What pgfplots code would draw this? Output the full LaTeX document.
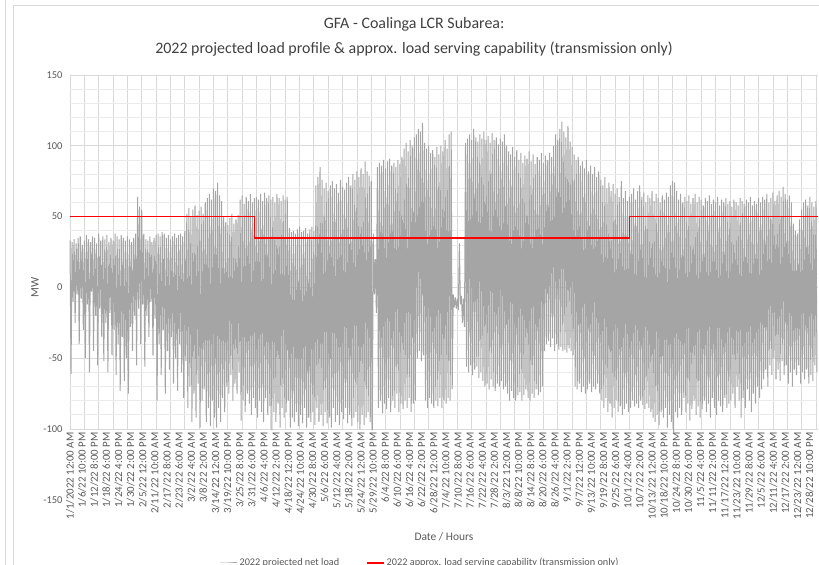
\documentclass[border=0pt]{standalone}
\usepackage{pgfplots}
\pgfplotsset{compat=1.18}
\usepackage{fontspec}
\setmainfont{Carlito}
\definecolor{txt}{HTML}{595959}
\definecolor{ttl}{HTML}{404040}
\definecolor{gridc}{HTML}{D9D9D9}
\definecolor{gridm}{HTML}{EBEBEB}
\definecolor{loadc}{HTML}{A5A5A5}
\begin{document}
\begin{tikzpicture}
\path[use as bounding box] (-70bp,-136bp) rectangle (749bp,429bp);
\draw[gridc, line width=0.75bp] (-65bp,-136bp) -- (-65bp,429bp);
\draw[gridc, line width=0.75bp] (-57bp,-136bp) -- (-57bp,424bp) -- (749bp,424bp);
\begin{axis}[
  at={(0,0)}, anchor=south west,
  scale only axis, width=748bp, height=354bp,
  xmin=0, xmax=365, ymin=-100, ymax=150,
  clip=false,
  axis line style={draw=none},
  major tick length=0pt, minor tick length=0pt,
  xtick={0,5.9166667,...,361},
  xticklabels={1/1/2022 12:00 AM, 1/6/22 10:00 PM, 1/12/22 8:00 PM, 1/18/22 6:00 PM, 1/24/22 4:00 PM, 1/30/22 2:00 PM, 2/5/22 12:00 PM, 2/11/22 10:00 AM, 2/17/22 8:00 AM, 2/23/22 6:00 AM, 3/2/22 4:00 AM, 3/8/22 2:00 AM, 3/14/22 12:00 AM, 3/19/22 10:00 PM, 3/25/22 8:00 PM, 3/31/22 6:00 PM, 4/6/22 4:00 PM, 4/12/22 2:00 PM, 4/18/22 12:00 PM, 4/24/22 10:00 AM, 4/30/22 8:00 AM, 5/6/22 6:00 AM, 5/12/22 4:00 AM, 5/18/22 2:00 AM, 5/24/22 12:00 AM, 5/29/22 10:00 PM, 6/4/22 8:00 PM, 6/10/22 6:00 PM, 6/16/22 4:00 PM, 6/22/22 2:00 PM, 6/28/22 12:00 PM, 7/4/22 10:00 AM, 7/10/22 8:00 AM, 7/16/22 6:00 AM, 7/22/22 4:00 AM, 7/28/22 2:00 AM, 8/3/22 12:00 AM, 8/8/22 10:00 PM, 8/14/22 8:00 PM, 8/20/22 6:00 PM, 8/26/22 4:00 PM, 9/1/22 2:00 PM, 9/7/22 12:00 PM, 9/13/22 10:00 AM, 9/19/22 8:00 AM, 9/25/22 6:00 AM, 10/1/22 4:00 AM, 10/7/22 2:00 AM, 10/13/22 12:00 AM, 10/18/22 10:00 PM, 10/24/22 8:00 PM, 10/30/22 6:00 PM, 11/5/22 4:00 PM, 11/11/22 2:00 PM, 11/17/22 12:00 PM, 11/23/22 10:00 AM, 11/29/22 8:00 AM, 12/5/22 6:00 AM, 12/11/22 4:00 AM, 12/17/22 2:00 AM, 12/23/22 12:00 AM, 12/28/22 10:00 PM},
  xticklabel style={rotate=90, anchor=east, font=\fontsize{10.9}{12}\selectfont, text=txt},
  minor xtick={0,7,...,364},
  xmajorgrids=false, xminorgrids=true,
  ytick={-100,-50,...,150},
  minor ytick={-100,-90,...,150},
  ymajorgrids=true, yminorgrids=true,
  major y grid style={gridc, line width=0.75bp},
  minor y grid style={gridm, line width=0.75bp},
  minor x grid style={gridc, line width=0.75bp},
  yticklabel style={font=\fontsize{10.5}{12}\selectfont, text=txt, xshift=-4bp},
  /pgf/number format/assume math mode=true,
  title={GFA - Coalinga LCR Subarea:\\2022 projected load profile \& approx. load serving capability (transmission only)},
  title style={at={(axis description cs:0.46,1.091)}, anchor=center, align=center, font=\fontsize{16}{25}\selectfont, text=ttl},
  xlabel={Date / Hours},
  xlabel style={at={(axis description cs:0.5,-0.305)}, anchor=center, font=\fontsize{11.5}{13}\selectfont, text=txt},
  ylabel={MW},
  ylabel style={at={(axis description cs:-0.0468,0.4)}, anchor=center, font=\fontsize{11.5}{13}\selectfont, text=txt},
  legend columns=2,
  legend style={at={(axis description cs:0.468,-0.3785)}, anchor=center, draw=none, fill=none, font=\fontsize{10.3}{12}\selectfont, text=txt, /tikz/every even column/.append style={column sep=25bp}},
]
\addplot[loadc, line width=1.0bp, line join=bevel] coordinates {
(0,33)(0.5,-61)(1,32)(1.5,-10)(2,34)(2.5,-25)(3,31)(3.5,-5)(4,35)(4.5,-40)
(5,36)(5.5,-8)(6,30)(6.5,-30)(7,33)(7.5,-50)(8,37)(8.5,-12)(9,34)(9.5,-60)
(10,32)(10.5,-3)(11,36)(11.5,-45)(12,35)(12.5,-20)(13,31)(13.5,-55)(14,38)(14.5,-15)
(15,33)(15.5,-35)(16,36)(16.5,-52)(17,34)(17.5,-25)(18,37)(18.5,-60)(19,32)(19.5,-18)
(20,35)(20.5,-48)(21,33)(21.5,-30)(22,38)(22.5,-62)(23,36)(23.5,-40)(24,34)(24.5,-73)
(25,37)(25.5,-35)(26,35)(26.5,-66)(27,33)(27.5,-50)(28,36)(28.5,-75)(29,34)(29.5,-28)
(30,32)(30.5,-45)(31,35)(31.5,-20)(32,38)(32.5,-55)(33,64)(33.5,-15)(34,57)(34.5,-40)
(35,55)(35.5,-12)(36,38)(36.5,-56)(37,34)(37.5,-20)(38,33)(38.5,-35)(39,36)(39.5,-10)
(40,32)(40.5,-48)(41,35)(41.5,-22)(42,37)(42.5,-80)(43,38)(43.5,-40)(44,36)(44.5,-62)
(45,39)(45.5,-30)(46,38)(46.5,-75)(47,35)(47.5,-45)(48,37)(48.5,-58)(49,34)(49.5,-35)
(50,36)(50.5,-68)(51,38)(51.5,-50)(52,35)(52.5,-73)(53,37)(53.5,-40)(54,38)(54.5,-60)
(55,36)(55.5,-78)(56,40)(56.5,-52)(57,52)(57.5,-85)(58,56)(58.5,-70)(59,50)(59.5,-95)
(60,55)(60.5,-75)(61,58)(61.5,-92)(62,51)(62.5,-68)(63,54)(63.5,-99)(64,57)(64.5,-80)
(65,52)(65.5,-72)(66,60)(66.5,-95)(67,63)(67.5,-85)(68,66)(68.5,-98)(69,62)(69.5,-80)
(70,70)(70.5,-92)(71,68)(71.5,-99)(72,74)(72.5,-85)(73,65)(73.5,-95)(74,61)(74.5,-78)
(75,50)(75.5,-88)(76,46)(76.5,-70)(77,44)(77.5,-75)(78,49)(78.5,-62)(79,52)(79.5,-80)
(80,45)(80.5,-68)(81,48)(81.5,-75)(82,51)(82.5,-60)(83,62)(83.5,-94)(84,65)(84.5,-80)
(85,59)(85.5,-88)(86,64)(86.5,-75)(87,61)(87.5,-82)(88,66)(88.5,-90)(89,60)(89.5,-78)
(90,63)(90.5,-85)(91,64)(91.5,-92)(92,62)(92.5,-80)(93,66)(93.5,-88)(94,61)(94.5,-95)
(95,67)(95.5,-78)(96,63)(96.5,-90)(97,65)(97.5,-84)(98,62)(98.5,-101)(99,64)(99.5,-88)
(100,60)(100.5,-95)(101,66)(101.5,-82)(102,63)(102.5,-99)(103,61)(103.5,-85)(104,65)(104.5,-92)
(105,62)(105.5,-88)(106,64)(106.5,-80)(107,42)(107.5,-99)(108,39)(108.5,-92)(109,40)(109.5,-95)
(110,38)(110.5,-88)(111,41)(111.5,-98)(112,43)(112.5,-90)(113,39)(113.5,-96)(114,40)(114.5,-85)
(115,42)(115.5,-99)(116,38)(116.5,-92)(117,41)(117.5,-95)(118,43)(118.5,-88)(119,40)(119.5,-97)
(120,72)(120.5,-85)(121,78)(121.5,-95)(122,85)(122.5,-90)(123,76)(123.5,-98)(124,70)(124.5,-88)
(125,74)(125.5,-96)(126,68)(126.5,-92)(127,72)(127.5,-99)(128,75)(128.5,-85)(129,70)(129.5,-95)
(130,73)(130.5,-90)(131,67)(131.5,-97)(132,76)(132.5,-88)(133,71)(133.5,-93)(134,69)(134.5,-85)
(135,74)(135.5,-96)(136,78)(136.5,-90)(137,72)(137.5,-98)(138,80)(138.5,-92)(139,76)(139.5,-88)
(140,82)(140.5,-95)(141,78)(141.5,-100)(142,84)(142.5,-90)(143,80)(143.5,-97)(144,89)(144.5,-92)
(145,82)(145.5,-88)(146,79)(146.5,-95)(147,75)(147.5,-101)(148,38)(148.5,-5)(149,20)(149.5,-18)
(150,85)(150.5,-85)(151,88)(151.5,-80)(152,86)(152.5,-89)(153,90)(153.5,-82)(154,84)(154.5,-86)
(155,89)(155.5,-78)(156,91)(156.5,-88)(157,86)(157.5,-80)(158,88)(158.5,-85)(159,85)(159.5,-75)
(160,90)(160.5,-88)(161,87)(161.5,-82)(162,92)(162.5,-86)(163,98)(163.5,-80)(164,102)(164.5,-85)
(165,96)(165.5,-78)(166,104)(166.5,-88)(167,100)(167.5,-82)(168,106)(168.5,-80)(169,108)(169.5,-50)
(170,112)(170.5,-45)(171,110)(171.5,-52)(172,116)(172.5,-48)(173,102)(173.5,-80)(174,98)(174.5,-85)
(175,100)(175.5,-78)(176,95)(176.5,-82)(177,97)(177.5,-85)(178,92)(178.5,-80)(179,99)(179.5,-84)
(180,94)(180.5,-78)(181,100)(181.5,-85)(182,96)(182.5,-80)(183,104)(183.5,-82)(184,98)(184.5,-78)
(185,108)(185.5,-80)(186,110)(186.5,-72)(187,-5)(187.5,-14)(188,-7)(188.5,-15)(189,-8)(189.5,-16)
(190,31)(190.5,-12)(191,-6)(191.5,-25)(192,-8)(192.5,-28)(193,102)(193.5,-56)(194,105)(194.5,-60)
(195,108)(195.5,-55)(196,104)(196.5,-62)(197,112)(197.5,-58)(198,106)(198.5,-56)(199,103)(199.5,-64)
(200,108)(200.5,-60)(201,105)(201.5,-66)(202,110)(202.5,-70)(203,104)(203.5,-68)(204,107)(204.5,-72)
(205,102)(205.5,-65)(206,109)(206.5,-70)(207,104)(207.5,-73)(208,106)(208.5,-68)(209,101)(209.5,-70)
(210,105)(210.5,-66)(211,103)(211.5,-72)(212,108)(212.5,-70)(213,100)(213.5,-75)(214,96)(214.5,-80)
(215,94)(215.5,-73)(216,99)(216.5,-78)(217,92)(217.5,-80)(218,97)(218.5,-76)(219,90)(219.5,-74)
(220,95)(220.5,-80)(221,88)(221.5,-76)(222,93)(222.5,-72)(223,91)(223.5,-78)(224,96)(224.5,-80)
(225,89)(225.5,-75)(226,94)(226.5,-78)(227,87)(227.5,-72)(228,92)(228.5,-76)(229,90)(229.5,-74)
(230,95)(230.5,-70)(231,88)(231.5,-45)(232,93)(232.5,-40)(233,90)(233.5,-38)(234,95)(234.5,-42)
(235,92)(235.5,-36)(236,100)(236.5,-45)(237,108)(237.5,-40)(238,104)(238.5,-44)(239,112)(239.5,-42)
(240,117)(240.5,-45)(241,110)(241.5,-44)(242,106)(242.5,-46)(243,114)(243.5,-43)(244,103)(244.5,-45)
(245,99)(245.5,-48)(246,94)(246.5,-70)(247,90)(247.5,-72)(248,92)(248.5,-68)(249,86)(249.5,-74)
(250,89)(250.5,-70)(251,84)(251.5,-75)(252,90)(252.5,-72)(253,82)(253.5,-68)(254,86)(254.5,-74)
(255,80)(255.5,-70)(256,85)(256.5,-72)(257,78)(257.5,-68)(258,82)(258.5,-75)(259,76)(259.5,-80)
(260,72)(260.5,-85)(261,78)(261.5,-78)(262,70)(262.5,-88)(263,74)(263.5,-82)(264,68)(264.5,-92)
(265,73)(265.5,-85)(266,66)(266.5,-80)(267,70)(267.5,-88)(268,64)(268.5,-84)(269,75)(269.5,-90)
(270,63)(270.5,-86)(271,68)(271.5,-82)(272,61)(272.5,-88)(273,64)(273.5,-85)(274,66)(274.5,-80)
(275,70)(275.5,-84)(276,62)(276.5,-82)(277,68)(277.5,-85)(278,72)(278.5,-80)(279,64)(279.5,-83)
(280,67)(280.5,-86)(281,60)(281.5,-82)(282,65)(282.5,-85)(283,63)(283.5,-88)(284,68)(284.5,-92)
(285,61)(285.5,-95)(286,66)(286.5,-90)(287,63)(287.5,-97)(288,60)(288.5,-88)(289,65)(289.5,-92)
(290,62)(290.5,-85)(291,67)(291.5,-99)(292,64)(292.5,-90)(293,72)(293.5,-95)(294,75)(294.5,-103)
(295,74)(295.5,-88)(296,68)(296.5,-92)(297,62)(297.5,-85)(298,66)(298.5,-90)(299,60)(299.5,-78)
(300,64)(300.5,-88)(301,61)(301.5,-82)(302,65)(302.5,-94)(303,59)(303.5,-86)(304,63)(304.5,-80)
(305,66)(305.5,-90)(306,60)(306.5,-84)(307,64)(307.5,-92)(308,62)(308.5,-86)(309,58)(309.5,-80)
(310,63)(310.5,-88)(311,61)(311.5,-82)(312,65)(312.5,-92)(313,59)(313.5,-78)(314,62)(314.5,-85)
(315,60)(315.5,-90)(316,64)(316.5,-80)(317,58)(317.5,-84)(318,62)(318.5,-88)(319,60)(319.5,-78)
(320,63)(320.5,-85)(321,59)(321.5,-82)(322,61)(322.5,-80)(323,57)(323.5,-75)(324,62)(324.5,-85)
(325,60)(325.5,-70)(326,58)(326.5,-80)(327,63)(327.5,-92)(328,61)(328.5,-78)(329,59)(329.5,-85)
(330,62)(330.5,-72)(331,60)(331.5,-80)(332,64)(332.5,-88)(333,58)(333.5,-75)(334,61)(334.5,-82)
(335,59)(335.5,-70)(336,63)(336.5,-78)(337,60)(337.5,-72)(338,64)(338.5,-65)(339,62)(339.5,-58)
(340,66)(340.5,-70)(341,60)(341.5,-55)(342,63)(342.5,-62)(343,67)(343.5,-50)(344,61)(344.5,-65)
(345,65)(345.5,-58)(346,68)(346.5,-66)(347,64)(347.5,-52)(348,71)(348.5,-62)(349,66)(349.5,-55)
(350,62)(350.5,-68)(351,65)(351.5,-60)(352,60)(352.5,-70)(353,45)(353.5,-58)(354,40)(354.5,-62)
(355,38)(355.5,-55)(356,48)(356.5,-68)(357,55)(357.5,-60)(358,60)(358.5,-65)(359,62)(359.5,-58)
(360,58)(360.5,-68)(361,64)(361.5,-62)(362,60)(362.5,-66)(363,57)(363.5,-55)(364,61)(364.5,-60)
};
\addlegendentry{2022 projected net load}
\addplot[red, line width=1.5bp] coordinates {(0,50)(90,50)(90,35)(273,35)(273,50)(365,50)};
\addlegendentry{2022 approx. load serving capability (transmission only)}
\node[anchor=east, text=txt, font=\fontsize{10.5}{12}\selectfont, inner sep=0.333em, xshift=-4bp] at (axis cs:0,-150) {-150};
\end{axis}
\end{tikzpicture}
\end{document}
